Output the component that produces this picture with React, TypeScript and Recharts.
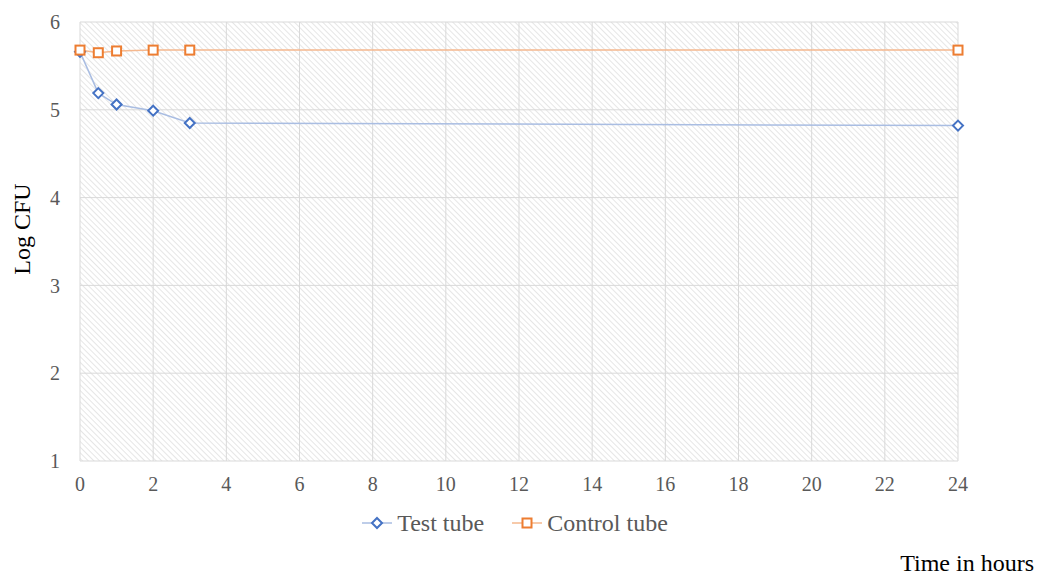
import React from "react";
import {
  CartesianGrid,
  Legend,
  Line,
  LineChart,
  XAxis,
  YAxis,
} from "recharts";

document.body.style.margin = "0";

const hours = [0, 0.5, 1, 2, 3, 24];
const testTube = [5.66, 5.19, 5.06, 4.99, 4.85, 4.82];
const controlTube = [5.68, 5.65, 5.67, 5.68, 5.68, 5.68];
const xTicks = [0, 2, 4, 6, 8, 10, 12, 14, 16, 18, 20, 22, 24];
const yTicks = [1, 2, 3, 4, 5, 6];

const data = hours.map((h, i) => ({
  hour: h,
  test: testTube[i],
  control: controlTube[i],
}));

const BLUE = "#4472c4";
const BLUE_LINE = "#a9bde2";
const ORANGE = "#ed7d31";
const ORANGE_LINE = "#f5b88e";
const FONT = "'Liberation Serif', serif";

/* ---------- markers ---------- */
const Diamond = (props: any) => {
  const { cx, cy } = props;
  if (cx == null || cy == null) return null;
  const r = 5;
  return (
    <path
      d={`M${cx},${cy - r} L${cx + r},${cy} L${cx},${cy + r} L${cx - r},${cy} Z`}
      fill="#fff"
      stroke={BLUE}
      strokeWidth={2}
    />
  );
};

const Square = (props: any) => {
  const { cx, cy } = props;
  if (cx == null || cy == null) return null;
  const s = 4.5;
  return (
    <rect
      x={cx - s}
      y={cy - s}
      width={s * 2}
      height={s * 2}
      fill="#fff"
      stroke={ORANGE}
      strokeWidth={2}
    />
  );
};

/* ---------- legend ---------- */
function LegendContent() {
  const item = (label: string, line: string, marker: React.ReactNode) => (
    <span style={{ display: "inline-flex", alignItems: "center", margin: "0 14px" }}>
      <svg width={30} height={14} style={{ marginRight: 5 }}>
        <line x1={0} y1={7} x2={30} y2={7} stroke={line} strokeWidth={1.5} />
        {marker}
      </svg>
      <span>{label}</span>
    </span>
  );
  return (
    <div
      style={{
        textAlign: "center",
        fontFamily: FONT,
        fontSize: 24,
        color: "#595959",
      }}
    >
      {item("Test tube", BLUE_LINE, <Diamond cx={15} cy={7} />)}
      {item("Control tube", ORANGE_LINE, <Square cx={15} cy={7} />)}
    </div>
  );
}

export default function App() {
  return (
    <div style={{ position: "relative", width: 1038, height: 575, background: "#fff" }}>
      <LineChart
        width={1038}
        height={575}
        data={data}
        margin={{ top: 22, right: 80, bottom: 74, left: 0 }}
      >
        <defs>
          <pattern
            id="hatch"
            width={4}
            height={4}
            patternUnits="userSpaceOnUse"
            patternTransform="rotate(-45)"
          >
            <rect width={4} height={4} fill="#ffffff" />
            <line x1={0} y1={0} x2={0} y2={4} stroke="#dedede" strokeWidth={1.5} />
          </pattern>
        </defs>
        <CartesianGrid stroke="#d9d9d9" fill="url(#hatch)" fillOpacity={1} />
        <XAxis
          type="number"
          dataKey="hour"
          domain={[0, 24]}
          ticks={xTicks}
          height={40}
          axisLine={false}
          tickLine={false}
          tick={{ fill: "#595959", fontSize: 20, fontFamily: FONT }}
          tickMargin={10}
          label={{
            content: (p: any) => {
              const vb = p.viewBox;
              return (
                <text
                  x={1034}
                  y={vb.y + 110}
                  textAnchor="end"
                  fontFamily={FONT}
                  fontSize={24}
                  fill="#000"
                >
                  Time in hours
                </text>
              );
            },
          }}
        />
        <YAxis
          type="number"
          domain={[1, 6]}
          ticks={yTicks}
          width={80}
          axisLine={false}
          tickLine={false}
          tick={{ fill: "#595959", fontSize: 20, fontFamily: FONT }}
          tickMargin={14}
          label={{
            content: () => (
              <text
                x={0}
                y={0}
                transform="translate(30,229) rotate(-90)"
                textAnchor="middle"
                fontFamily={FONT}
                fontSize={24}
                fill="#000"
              >
                Log CFU
              </text>
            ),
          }}
        />
        <Legend
          layout="horizontal"
          verticalAlign="middle"
          align="center"
          wrapperStyle={{ top: 509, left: 0, width: 1030 }}
          content={<LegendContent />}
        />
        <Line
          dataKey="test"
          name="Test tube"
          stroke={BLUE_LINE}
          strokeWidth={1.5}
          dot={<Diamond />}
          activeDot={false}
          isAnimationActive={false}
        />
        <Line
          dataKey="control"
          name="Control tube"
          stroke={ORANGE_LINE}
          strokeWidth={1.5}
          dot={<Square />}
          activeDot={false}
          isAnimationActive={false}
        />
      </LineChart>
    </div>
  );
}
